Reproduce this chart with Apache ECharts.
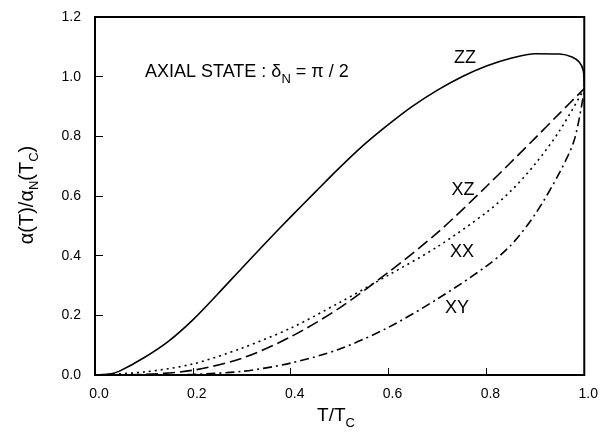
<!DOCTYPE html>
<html>
<head>
<meta charset="utf-8">
<script src="https://cdn.jsdelivr.net/npm/echarts@6/dist/echarts.min.js"></script>
<style>
  html, body { margin: 0; padding: 0; background: #fff; }
  #chart { width: 601px; height: 432px; }
</style>
</head>
<body>
<div id="chart"></div>
<script>
// values, [T/Tc, alpha/alphaN]
const zz = [
  [0, 0], [0.03, 0.003], [0.05, 0.013], [0.1, 0.058], [0.15, 0.113], [0.2, 0.185], [0.25, 0.27],
  [0.3, 0.358], [0.35, 0.445], [0.4, 0.53], [0.45, 0.613], [0.5, 0.695], [0.55, 0.772],
  [0.6, 0.84], [0.65, 0.902], [0.7, 0.955], [0.75, 1.0], [0.8, 1.036], [0.85, 1.062],
  [0.9, 1.077], [0.95, 1.076], [0.975, 1.066], [0.99, 1.048], [0.998, 1.02], [1.0, 0.965]
]
const xz = [
  [0, 0], [0.1, 0.002], [0.2, 0.016], [0.3, 0.056], [0.4, 0.128], [0.5, 0.225],
  [0.6, 0.345], [0.7, 0.477], [0.8, 0.632], [0.9, 0.795], [0.95, 0.878], [1.0, 0.96]
]
const xx = [
  [0, 0], [0.1, 0.01], [0.2, 0.037], [0.3, 0.09], [0.4, 0.157], [0.5, 0.243],
  [0.6, 0.335], [0.7, 0.43], [0.8, 0.545], [0.85, 0.617], [0.9, 0.708], [0.95, 0.82], [1.0, 0.96]
]
const xy = [
  [0.15, 0], [0.2, 0.002], [0.3, 0.012], [0.4, 0.04], [0.5, 0.087], [0.6, 0.16],
  [0.7, 0.255], [0.8, 0.365], [0.85, 0.435], [0.9, 0.54], [0.95, 0.68], [0.98, 0.79], [1.0, 0.955]
]
const xTicks = { min: 0, max: 1, step: 0.2 }
const yTicks = { min: 0, max: 1.2, step: 0.2 }

const FONT = 'Liberation Sans'
const sub = { fontSize: 13, fontFamily: FONT, verticalAlign: 'bottom', padding: [14, 0, 0, 0] }

const chart = echarts.init(document.getElementById('chart'))

function line(name, data, type) {
  return {
    name,
    type: 'line',
    data,
    smooth: 0.3,
    showSymbol: false,
    lineStyle: { color: '#000', width: 1.6, type }
  }
}

chart.setOption({
  animation: false,
  grid: {
    left: 95, right: 15, top: 17, bottom: 57,
    show: true, borderColor: '#000', borderWidth: 2
  },
  xAxis: {
    type: 'value',
    min: xTicks.min, max: xTicks.max, interval: xTicks.step,
    axisLine: { show: false },
    axisTick: { inside: true, length: 7, lineStyle: { color: '#000', width: 1 } },
    splitLine: { show: false },
    axisLabel: {
      color: '#000', fontSize: 14, fontFamily: FONT, margin: 12,
      padding: [0, 0, 0, 8],
      formatter: v => v.toFixed(1)
    }
  },
  yAxis: {
    type: 'value',
    min: yTicks.min, max: yTicks.max, interval: yTicks.step,
    axisLine: { show: false },
    axisTick: { inside: true, length: 8, lineStyle: { color: '#000', width: 1 } },
    splitLine: { show: false },
    axisLabel: {
      color: '#000', fontSize: 14, fontFamily: FONT, margin: 14,
      formatter: v => v.toFixed(1)
    }
  },
  series: [
    line('ZZ', zz, 'solid'),
    line('XZ', xz, [12, 5]),
    line('XX', xx, [2, 4]),
    line('XY', xy, [9, 4, 2, 4])
  ],
  graphic: [
    {
      type: 'text', x: 145, y: 72,
      style: {
        text: 'AXIAL STATE : δ{s|N} = π / 2',
        font: '18px ' + FONT, fill: '#000', verticalAlign: 'middle',
        rich: { s: sub }
      }
    },
    { type: 'text', x: 465, y: 58, style: { text: 'ZZ', font: '18px ' + FONT, fill: '#000', align: 'center', verticalAlign: 'middle' } },
    { type: 'text', x: 463, y: 190, style: { text: 'XZ', font: '18px ' + FONT, fill: '#000', align: 'center', verticalAlign: 'middle' } },
    { type: 'text', x: 462, y: 252, style: { text: 'XX', font: '18px ' + FONT, fill: '#000', align: 'center', verticalAlign: 'middle' } },
    { type: 'text', x: 457, y: 308, style: { text: 'XY', font: '18px ' + FONT, fill: '#000', align: 'center', verticalAlign: 'middle' } },
    {
      type: 'text', x: 336, y: 416,
      style: {
        text: 'T/T{s|C}', font: '19px ' + FONT, fill: '#000', align: 'center', verticalAlign: 'middle',
        rich: { s: sub }
      }
    },
    {
      type: 'text', x: 27, y: 195, rotation: Math.PI / 2,
      style: {
        text: 'α(T)/α{s|N}(T{s|C})', font: '20px ' + FONT, fill: '#000', align: 'center', verticalAlign: 'middle',
        rich: { s: sub }
      }
    }
  ]
})
</script>
</body>
</html>
